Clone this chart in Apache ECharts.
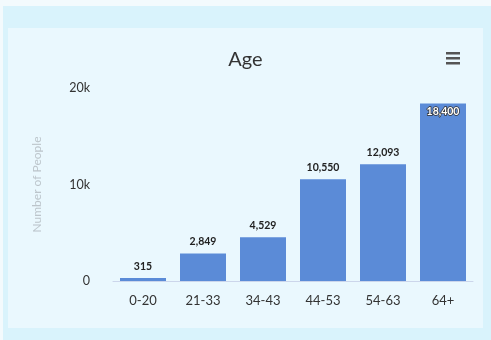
<!DOCTYPE html>
<html>
<head>
<meta charset="utf-8">
<style>
  html, body { margin: 0; padding: 0; background: #f4fbfe; }
  #chart { width: 491px; height: 340px; }
</style>
<script src="https://cdn.jsdelivr.net/npm/echarts@6/dist/echarts.min.js"></script>
</head>
<body>
<div id="chart"></div>
<script>
// Age distribution
const categories = ['0-20', '21-33', '34-43', '44-53', '54-63', '64+'];
const people = [315, 2849, 4529, 10550, 12093, 18400];
const yTicks = [0, 10000, 20000];

const FONT = 'Lato, "Noto Sans", sans-serif';
const chart = echarts.init(document.getElementById('chart'), null, { renderer: 'canvas' });

const fmt = v => v.toLocaleString('en-US');

chart.setOption({
  backgroundColor: '#f3fafd',
  animation: false,
  textStyle: { fontFamily: FONT },
  graphic: [
    { type: 'rect', z: -11, silent: true,
      shape: { x: 3, y: 6, width: 488, height: 334 },
      style: { fill: '#d9f3fc' } },
    { type: 'rect', z: -10, silent: true,
      shape: { x: 8, y: 28, width: 475, height: 300 },
      style: { fill: '#eaf8fe' } },
    // menu button
    { type: 'group', left: 446, top: 52, children: [
      { type: 'rect', shape: { x: 0, y: 0, width: 14, height: 2.5 }, style: { fill: '#555' } },
      { type: 'rect', shape: { x: 0, y: 5, width: 14, height: 2.5 }, style: { fill: '#555' } },
      { type: 'rect', shape: { x: 0, y: 10, width: 14, height: 2.5 }, style: { fill: '#555' } }
    ] }
  ],
  title: {
    text: 'Age',
    left: 'center',
    top: 45,
    textStyle: { fontFamily: FONT, fontSize: 20, fontWeight: 'normal', color: '#333' }
  },
  grid: { left: 113, right: 18, top: 88, bottom: 59 },
  xAxis: {
    type: 'category',
    data: categories,
    axisLine: { lineStyle: { color: '#ccd6eb' } },
    axisTick: { show: false },
    axisLabel: { color: '#333', fontSize: 13, margin: 13, fontFamily: FONT }
  },
  yAxis: {
    type: 'value',
    min: 0, max: 20000, interval: 10000,
    name: 'Number of People',
    nameLocation: 'middle',
    nameGap: 70,
    nameTextStyle: { color: '#bcc5cb', fontSize: 12, fontFamily: FONT },
    splitLine: { show: false },
    axisLine: { show: false },
    axisTick: { show: false },
    axisLabel: {
      color: '#333', fontSize: 12.5, margin: 23, fontFamily: FONT,
      formatter: v => yTicks.includes(v) ? (v === 0 ? '0' : (v / 1000) + 'k') : ''
    }
  },
  series: [{
    type: 'bar',
    barWidth: 46,
    itemStyle: { color: '#5b8bd7' },
    data: people.map((v, i) => {
      const top = i === people.length - 1;
      return {
        value: v,
        label: top ? {
          show: true, position: 'insideTop', distance: 3,
          color: '#fff', fontSize: 10.5, fontWeight: 'bold',
          textBorderColor: '#333', textBorderWidth: 1.5,
          formatter: p => fmt(p.value)
        } : undefined
      };
    }),
    label: {
      show: true, position: 'top', distance: 6,
      color: '#222', fontSize: 10.5, fontWeight: 'bold', fontFamily: FONT,
      formatter: p => fmt(p.value)
    }
  }]
});
</script>
</body>
</html>
